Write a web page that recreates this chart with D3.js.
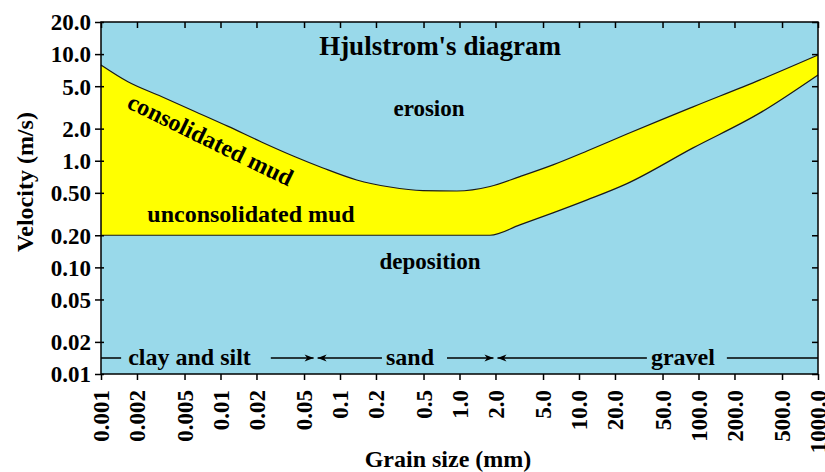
<!DOCTYPE html>
<html>
  <head>
    <meta charset="utf-8" />
    <script src="https://d3js.org/d3.v7.min.js"></script>
    <style>
      body { margin: 0; background: #ffffff; }
      text { font-family: "Liberation Serif", "Times New Roman", serif; font-weight: bold; fill: #000000; }
      .curve { fill: none; stroke: #1a1a1a; stroke-width: 1.2; }
      .band { stroke: #000000; stroke-width: 1.5; }
    </style>
  </head>
  <body>
    <svg width="825" height="472"></svg>
    <script type="text/javascript">

    // grain size (mm) tick labels and velocity (m/s) tick labels
    var grainTicks = [0.001, 0.002, 0.005, 0.01, 0.02, 0.05, 0.1, 0.2, 0.5, 1, 2, 5, 10, 20, 50, 100, 200, 500, 1000];
    var grainLabels = ["0.001", "0.002", "0.005", "0.01", "0.02", "0.05", "0.1", "0.2", "0.5", "1.0", "2.0", "5.0",
                       "10.0", "20.0", "50.0", "100.0", "200.0", "500.0", "1000.0"];
    var velTicks = [0.01, 0.02, 0.05, 0.1, 0.2, 0.5, 1, 2, 5, 10, 20];
    var velLabels = ["0.01", "0.02", "0.05", "0.10", "0.20", "0.50", "1.0", "2.0", "5.0", "10.0", "20.0"];

    // erosion curve (top of the yellow band)
    var erosionGrain = [0.001, 0.00168, 0.0032, 0.0061, 0.0116, 0.022, 0.042, 0.072, 0.138, 0.262, 0.495, 0.95,
                        1.8, 3.2, 6.05, 11.8, 25.2, 47.5, 90, 327, 1000];
    var erosionVel = [7.9, 5.5, 4.0, 2.9, 2.1, 1.5, 1.09, 0.855, 0.66, 0.567, 0.525, 0.52,
                      0.573, 0.71, 0.914, 1.24, 1.78, 2.39, 3.2, 5.73, 9.8];

    // deposition curve (bottom of the yellow band)
    var depositGrain = [0.001, 1.8, 3.2, 6.05, 11.7, 25.2, 90, 327, 1000];
    var depositVel = [0.2, 0.2, 0.25, 0.324, 0.429, 0.61, 1.32, 2.81, 6.38];

    // sediment classes along the bottom
    var classNames = ["clay and silt", "sand", "gravel"];
    var classBounds = [0.001, 0.0625, 2, 1000];
    var classLabelAt = [0.0055, 0.385, 74];

    var svg = d3.select("svg");
    var plotL = 101, plotR = 818, plotT = 22, plotB = 374;

    var x = d3.scaleLog().domain([0.001, 1000]).range([plotL, plotR]);
    var y = d3.scaleLog().domain([0.01, 20]).range([plotB, plotT]);

    var erosion = erosionGrain.map(function(g, i) { return [g, erosionVel[i]]; });
    var deposit = depositGrain.map(function(g, i) { return [g, depositVel[i]]; });

    // background
    svg.append("rect")
      .attr("x", plotL).attr("y", plotT)
      .attr("width", plotR - plotL).attr("height", plotB - plotT)
      .attr("fill", "#99d9ea");

    var area = d3.area()
      .x(function(d) { return x(d[0]); })
      .y0(plotB)
      .y1(function(d) { return y(d[1]); })
      .curve(d3.curveMonotoneX);

    var line = d3.line()
      .x(function(d) { return x(d[0]); })
      .y(function(d) { return y(d[1]); })
      .curve(d3.curveMonotoneX);

    svg.append("path").attr("d", area(erosion)).attr("fill", "#ffff00");
    svg.append("path").attr("d", area(deposit)).attr("fill", "#99d9ea");
    svg.append("path").attr("class", "curve").attr("d", line(erosion));
    svg.append("path").attr("class", "curve").attr("d", line(deposit));

    // axes
    var xAxis = svg.append("g")
      .attr("transform", "translate(0," + plotB + ")")
      .call(d3.axisBottom(x).tickValues(grainTicks).tickFormat(function(d, i) { return grainLabels[i]; }).tickSize(6));
    xAxis.selectAll("text")
      .attr("transform", "rotate(-90)")
      .attr("x", -16).attr("y", 0).attr("dy", "0.33em")
      .style("text-anchor", "end")
      .style("font-size", "23px")
      .style("font-family", "Liberation Serif, serif");

    var yAxis = svg.append("g")
      .attr("transform", "translate(" + plotL + ",0)")
      .call(d3.axisLeft(y).tickValues(velTicks).tickFormat(function(d, i) { return velLabels[i]; }).tickSize(6).tickPadding(4));
    yAxis.selectAll("text")
      .attr("dy", "0.34em")
      .style("font-size", "23px")
      .style("font-family", "Liberation Serif, serif");

    // inner ticks on the left, top and right
    svg.append("g")
      .attr("transform", "translate(" + (plotL + 3) + ",0)")
      .call(d3.axisLeft(y).tickValues(velTicks).tickFormat("").tickSize(3));
    svg.append("g")
      .attr("transform", "translate(0," + plotT + ")")
      .call(d3.axisBottom(x).tickValues(grainTicks).tickFormat("").tickSize(6));
    svg.append("g")
      .attr("transform", "translate(" + plotR + ",0)")
      .call(d3.axisLeft(y).tickValues(velTicks).tickFormat("").tickSize(6));

    svg.selectAll(".domain").remove();
    svg.selectAll(".tick line").attr("stroke", "#000").attr("stroke-width", 1.5);

    svg.append("rect")
      .attr("x", plotL).attr("y", plotT)
      .attr("width", plotR - plotL).attr("height", plotB - plotT)
      .attr("fill", "none").attr("stroke", "#000").attr("stroke-width", 1.5);

    // sediment class band
    var bandY = 358;
    var gaps = [[7, 20], [4, 13], [4, 12]];
    classNames.forEach(function(name, i) {
      var t = svg.append("text")
        .attr("x", x(classLabelAt[i])).attr("y", bandY + 7)
        .attr("text-anchor", "middle")
        .style("font-size", "24px")
        .text(name);
      var w = t.node().getComputedTextLength();
      var cx = x(classLabelAt[i]);
      var x0 = x(classBounds[i]), x1 = x(classBounds[i + 1]);
      var a = i > 0 ? 2 : 0, b = i < classNames.length - 1 ? 2 : 0;
      svg.append("line").attr("class", "band")
        .attr("x1", x0 + a).attr("x2", cx - w / 2 - gaps[i][0])
        .attr("y1", bandY).attr("y2", bandY);
      svg.append("line").attr("class", "band")
        .attr("x1", cx + w / 2 + gaps[i][1]).attr("x2", x1 - b)
        .attr("y1", bandY).attr("y2", bandY);
      if (i > 0) {
        svg.append("path")
          .attr("d", "M" + (x0 + 2) + "," + bandY + "l9,-3.5l-2.5,3.5l2.5,3.5z")
          .attr("fill", "#000");
      }
      if (i < classNames.length - 1) {
        svg.append("path")
          .attr("d", "M" + (x1 - 2) + "," + bandY + "l-9,-3.5l2.5,3.5l-2.5,3.5z")
          .attr("fill", "#000");
      }
    });

    // labels
    svg.append("text").attr("x", 440).attr("y", 55).attr("text-anchor", "middle")
      .style("font-size", "27px").text("Hjulstrom's diagram");
    svg.append("text").attr("x", 429).attr("y", 116).attr("text-anchor", "middle")
      .style("font-size", "23px").text("erosion");
    svg.append("text").attr("text-anchor", "middle")
      .attr("transform", "translate(207,147) rotate(26)")
      .style("font-size", "24px").text("consolidated mud");
    svg.append("text").attr("x", 251).attr("y", 222).attr("text-anchor", "middle")
      .style("font-size", "24px").text("unconsolidated mud");
    svg.append("text").attr("x", 430).attr("y", 269).attr("text-anchor", "middle")
      .style("font-size", "23px").text("deposition");

    svg.append("text").attr("text-anchor", "middle")
      .attr("transform", "translate(33,182) rotate(-90)")
      .style("font-size", "24px").text("Velocity (m/s)");
    svg.append("text").attr("x", 448).attr("y", 467).attr("text-anchor", "middle")
      .style("font-size", "24px").text("Grain size (mm)");

    </script>
  </body>
</html>
